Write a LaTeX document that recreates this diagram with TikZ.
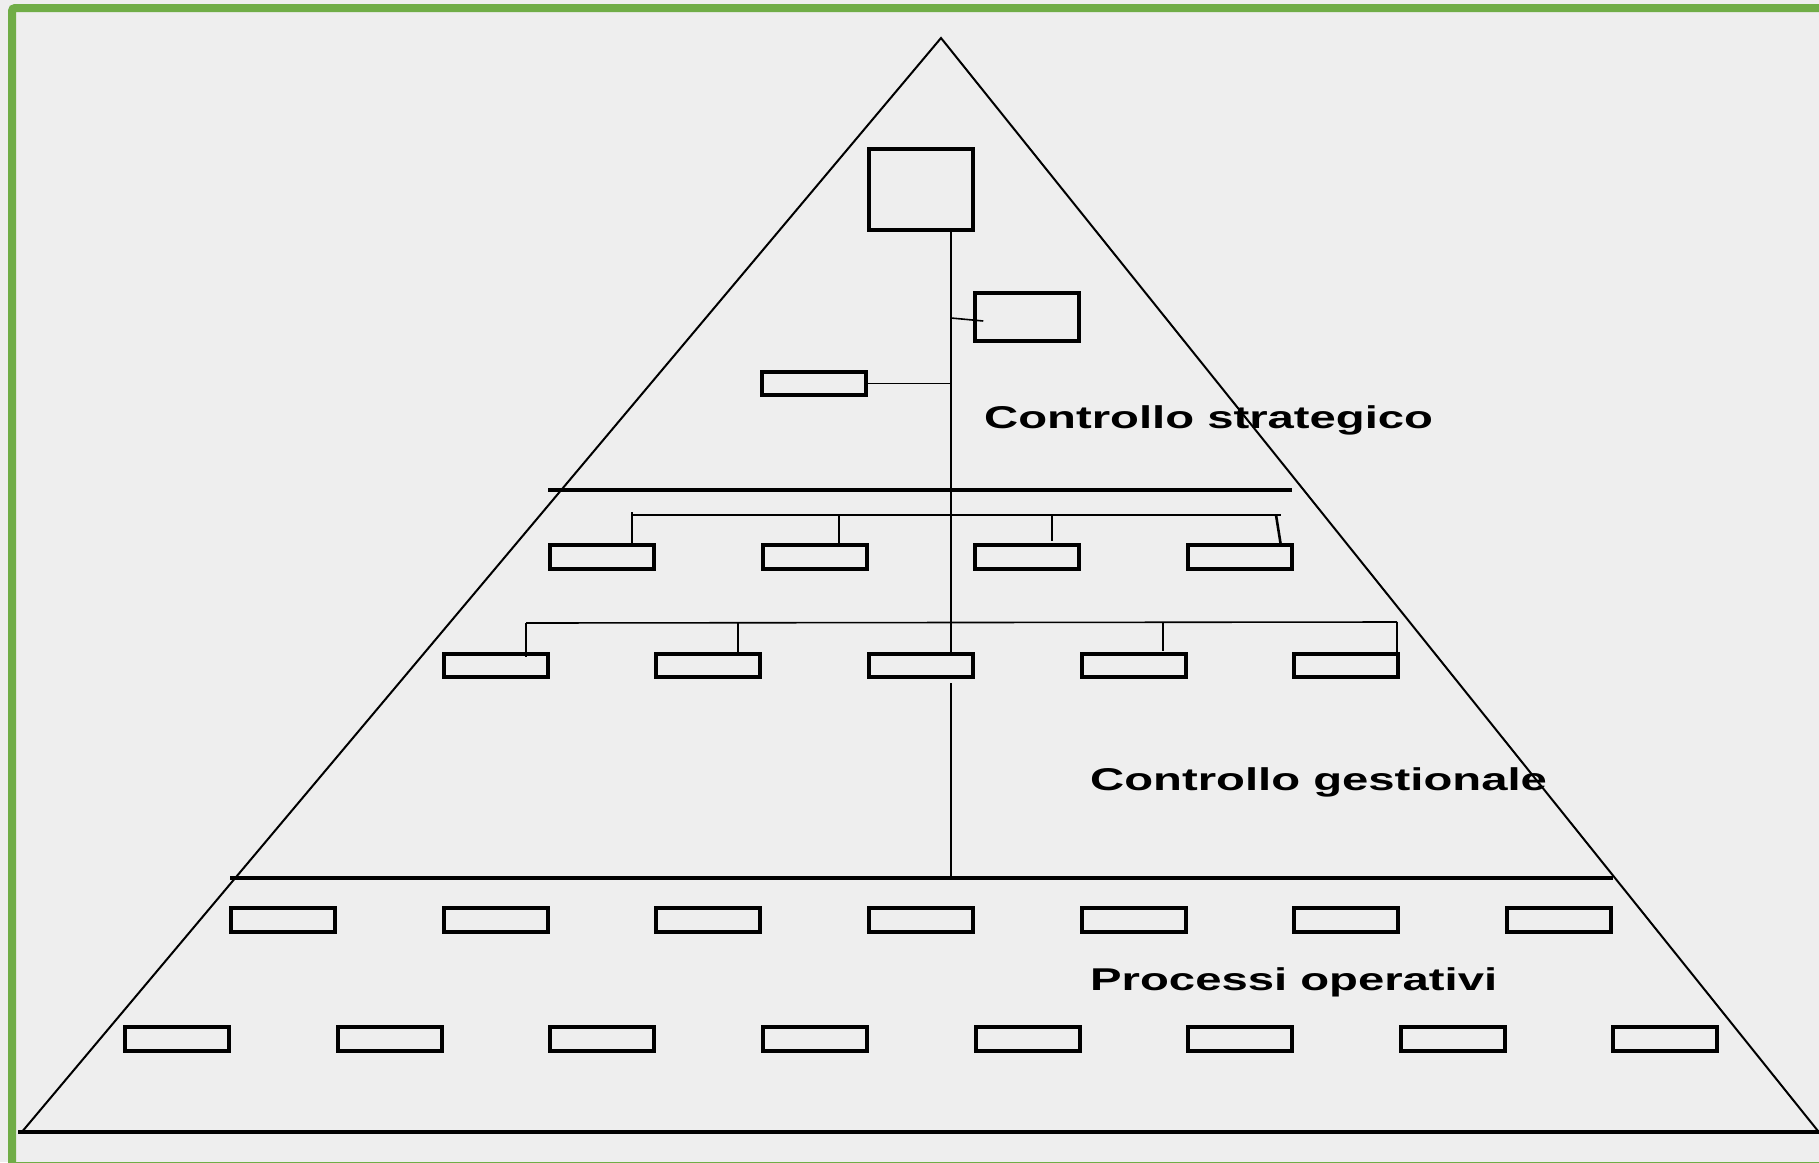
\documentclass[tikz,border=0pt]{standalone}
\usepackage{fontspec}
\setmainfont{Liberation Sans}
\definecolor{bgpaper}{HTML}{EEEEEE}
\definecolor{framegreen}{HTML}{70AD47}
\begin{document}
\begin{tikzpicture}[x=1pt,y=-1pt,
  unit/.style={draw=black,line width=4pt,inner sep=0pt,minimum width=103.5pt,minimum height=23.5pt},
  bus/.style={line width=1.6pt},
  spine/.style={line width=2.6pt},
  divider/.style={line width=3.5pt},
  side/.style={line width=2pt},
  level/.style={anchor=base west,inner sep=0pt,font=\fontsize{31.5}{37}\selectfont\bfseries}]
% canvas and frame
\useasboundingbox (0,0) rectangle (1819,1162);
\fill[bgpaper] (0,0) rectangle (1819,1162);
\draw[framegreen,line width=8pt,rounded corners=3pt] (12,8) rectangle (1840,1166);

% pyramid outline
\coordinate (apex) at (941,38);
\coordinate (bl) at (21,1133);
\coordinate (br) at (1822,1136);
\draw[side] (bl) -- (apex) -- (br);
\coordinate (b0) at (18,1132);
\coordinate (b1) at (1819,1132);
\draw[line width=4pt] (b0) -- (b1);

% level dividers
\coordinate (d1l) at (548,490);
\coordinate (d1r) at (1292,490);
\coordinate (d2l) at (230,878);
\coordinate (d2r) at (1613,878);
\draw[divider] (d1l) -- (d1r);
\draw[divider] (d2l) -- (d2r);

% strategic units
\node[unit,minimum width=104pt,minimum height=81pt] (top) at (921,189.5) {};
\node[unit,minimum height=48pt] (rb) at (1027,317) {};
\node[unit] (lb) at (814,383.5) {};

% row A
\foreach \i/\x in {1/602,2/815,3/1027,4/1240}
  \node[unit] (a\i) at (\x,557) {};
% row B
\foreach \i/\x in {1/496,2/708,3/921,4/1134,5/1346}
  \node[unit] (b\i) at (\x,665.5) {};
% row C
\foreach \i/\x in {1/283,2/496,3/708,4/921,5/1134,6/1346,7/1559}
  \node[unit] (c\i) at (\x,920) {};
% row D
\foreach \i/\x in {1/177,2/390,3/602,4/815,5/1028,6/1240,7/1453,8/1665}
  \node[unit] (e\i) at (\x,1039) {};

% central spine
\coordinate (sx) at (951,0);
\draw[spine] (top.south -| sx) -- (b3.north -| sx);
\draw[spine] ([shift={(0,4)}]b3.south -| sx) -- (sx |- d2l);

% side branches
\coordinate (rj) at (951,318);
\draw[bus] (rj) -- ([shift={(10,4)}]rb.west);
\draw[bus] (lb.east) -- (lb.east -| sx);

% bus to row A
\coordinate (ab0) at (632,515);
\coordinate (ab1) at (1281,515);
\draw[bus] (ab0) -- (ab1);
\draw[spine] ([shift={(0,-3)}]ab0) -- ([shift={(30,3)}]a1.north);
\draw[spine] (839,515) -- ([shift={(24,2)}]a2.north);
\draw[spine] (1052,515) -- ([shift={(25,-2)}]a3.north);
\draw[spine] (1276,515) -- ([shift={(41,3)}]a4.north);

% bus to row B
\coordinate (bb0) at (526,623);
\coordinate (bb1) at (1397,622);
\draw[bus] (bb0) -- (bb1);
\draw[spine] (bb0) -- ([shift={(30,5)}]b1.north);
\draw[spine] (738,623) -- ([shift={(30,1)}]b2.north);
\draw[spine] (1163,622) -- ([shift={(29,-1)}]b4.north);
\draw[spine] (bb1) -- ([shift={(51,0)}]b5.north);

% level names
\node[level] (lstrat) at (984,428) {\scalebox{1.5}[1]{Controllo strategico}};
\node[level] (lgest) at (1090,790) {\scalebox{1.5}[1]{Controllo gestionale}};
\node[level] (lproc) at (1090,990) {\scalebox{1.5}[1]{Processi operativi}};
\end{tikzpicture}
\end{document}
